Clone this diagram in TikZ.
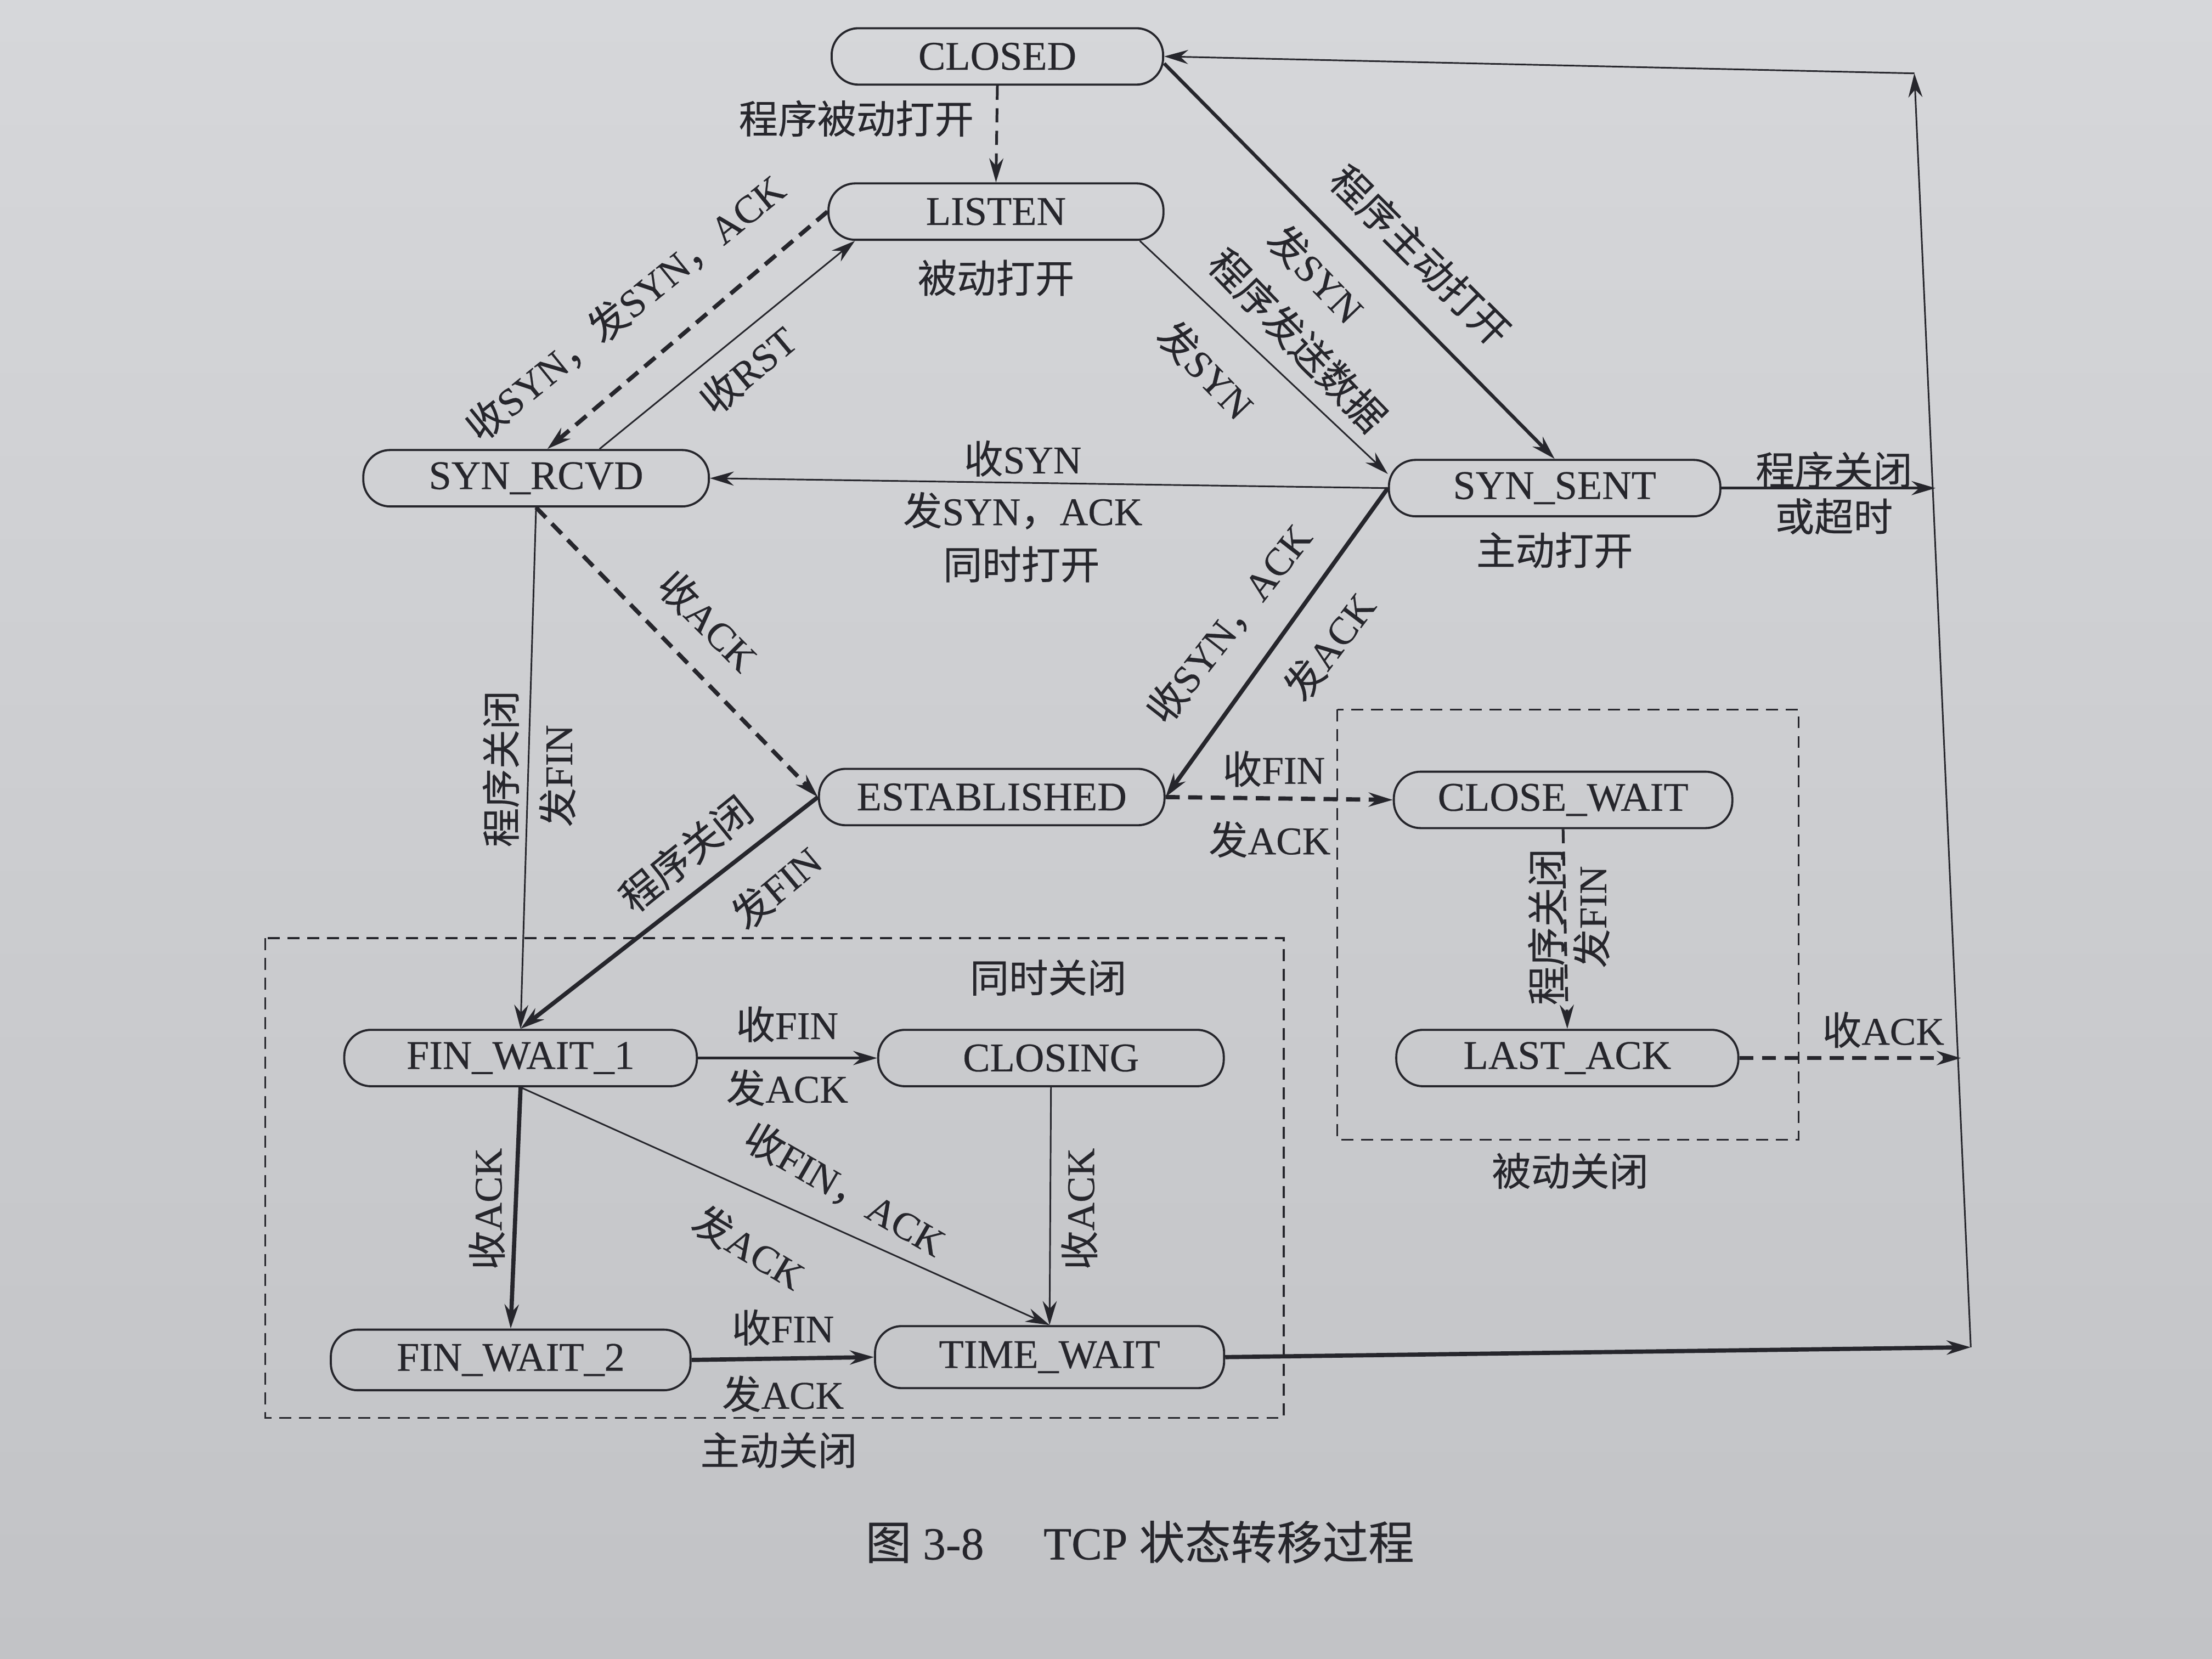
\documentclass[tikz,border=0pt]{standalone}
\usepackage{fontspec}
\setmainfont{Liberation Serif}[FakeBold=0.35]
\newfontfamily\cjk{Noto Sans CJK SC}[FakeBold=0.3]
\usetikzlibrary{arrows.meta,calc}
\newcommand\zh[1]{{\cjk #1}}
\newcommand\lblfont{\fontsize{15.8}{18}\selectfont}
\newcommand\stfont{\fontsize{16.4}{19}\selectfont}
\definecolor{ink}{RGB}{38,38,44}
\definecolor{papertop}{RGB}{214,215,218}
\definecolor{paperbot}{RGB}{194,195,198}
\begin{document}
\begin{tikzpicture}[x=0.02cm,y=-0.02cm,
  >={Stealth[length=0.34cm,width=0.2cm]},
  state/.style={draw=ink,line width=0.85pt,rounded corners=0.38cm,minimum width=4.8cm,minimum height=0.8cm,inner sep=0pt,text=ink,font=\stfont},
  lbl/.style={text=ink,font=\lblfont,inner sep=0.5pt},
  lnA/.style={draw=ink,line width=0.65pt,->},
  lnB/.style={draw=ink,line width=1.1pt,->},
  lnC/.style={draw=ink,line width=1.7pt,->},
  dsh/.style={dash pattern=on 0.2cm off 0.12cm},
  grp/.style={draw=ink,line width=0.7pt,dash pattern=on 0.17cm off 0.11cm}]
\shade[top color=papertop,bottom color=paperbot] (0,0) rectangle (1568,1176);
\useasboundingbox (0,0) rectangle (1568,1176);

% group boxes
\draw[grp] (188,665) rectangle (910,1005);
\draw[grp] (948,503) rectangle (1275,808);

% states
\node[state,minimum width=4.7cm] (CLOSED) at (707,40) {CLOSED};
\node[state,minimum width=4.75cm] (LISTEN) at (706,150) {LISTEN};
\node[state,minimum width=4.9cm] (SYNRCVD) at (380,339) {SYN\_RCVD};
\node[state,minimum width=4.7cm] (SYNSENT) at (1102,346) {SYN\_SENT};
\node[state,minimum width=4.9cm] (EST) at (703,565) {ESTABLISHED};
\node[state,minimum width=4.8cm] (CLOSEWAIT) at (1108,567) {CLOSE\_WAIT};
\node[state,minimum width=5.0cm] (FW1) at (369,750) {FIN\_WAIT\_1};
\node[state,minimum width=4.9cm] (CLOSING) at (745,750) {CLOSING};
\node[state,minimum width=4.85cm] (LASTACK) at (1111,750) {LAST\_ACK};
\node[state,minimum width=5.1cm,minimum height=0.86cm] (FW2) at (362,964) {FIN\_WAIT\_2};
\node[state,minimum width=4.95cm,minimum height=0.88cm] (TW) at (744,962) {TIME\_WAIT};

% bus on the right
\coordinate (busB) at (1397,955);
\coordinate (busT) at (1357,52);
\coordinate (busS) at (1372,346);
\coordinate (busL) at (1390,750);

% connectors
\draw[lnB,dsh] (CLOSED.south) -- (LISTEN.north);
\draw[lnC,dsh] (LISTEN.west) -- ([xshift=0.16cm]SYNRCVD.north);
\draw[lnA] ([xshift=0.9cm]SYNRCVD.north) -- ([xshift=-2cm]LISTEN.south);
\draw[lnB,line width=1.4pt] ([yshift=-0.1cm]CLOSED.east) -- (SYNSENT.north);
\draw[lnA] ([xshift=2.04cm]LISTEN.south) -- ([yshift=0.2cm]SYNSENT.west);
\draw[lnA] (SYNSENT.west) -- (SYNRCVD.east);
\draw[lnC,dsh] (SYNRCVD.south) -- (EST.west);
\draw[lnC] (SYNSENT.west) -- (EST.east);
\draw[lnC,dsh] (EST.east) -- (CLOSEWAIT.west);
\draw[lnA] (SYNRCVD.south) -- (FW1.north);
\draw[lnC] (EST.west) -- (FW1.north);
\draw[lnB,dsh] (CLOSEWAIT.south) -- (LASTACK.north);
\draw[lnB] (FW1.east) -- (CLOSING.west);
\draw[lnC] (FW1.south) -- (FW2.north);
\draw[lnA] (FW1.south) -- (TW.north);
\draw[lnA] (CLOSING.south) -- (TW.north);
\draw[lnC] (FW2.east) -- (TW.west);
\draw[lnC] (TW.east) -- (busB);
\draw[lnB] (SYNSENT.east) -- (busS);
\draw[lnC,dsh] (LASTACK.east) -- (busL);
\draw[lnA] (busB) -- (busT);
\draw[lnA] (busT) -- (CLOSED.east);

% labels
\node[lbl] (t1) at (607,84) {\zh{程序被动打开}};
\node[lbl,rotate=39] (t2) at (443,218) {\zh{收}SYN\zh{，发}SYN\zh{，}ACK};
\node[lbl,rotate=40] (t3) at (530,262) {\zh{收}RST};
\node[lbl] (t4) at (706,197) {\zh{被动打开}};
\node[lbl,rotate=-45] (t5) at (1007,181) {\zh{程序主动打开}};
\node[lbl,rotate=-46] (t6) at (933,194) {\zh{发}SYN};
\node[lbl,rotate=-46] (t7) at (920,241) {\zh{程序发送数据}};
\node[lbl,rotate=-46] (t8) at (855,262) {\zh{发}SYN};
\node[lbl] (t9) at (725,325) {\zh{收}SYN};
\node[lbl] (t10) at (725,362) {\zh{发}SYN\zh{，}ACK};
\node[lbl] (t11) at (724,400) {\zh{同时打开}};
\node[lbl] (t12) at (1102,390) {\zh{主动打开}};
\node[lbl] (t13) at (1300,333) {\zh{程序关闭}};
\node[lbl] (t14) at (1300,366) {\zh{或超时}};
\node[lbl,rotate=-45] (t15) at (502,440) {\zh{收}ACK};
\node[lbl,rotate=52] (t16) at (871,442) {\zh{收}SYN\zh{，}ACK};
\node[lbl,rotate=53] (t17) at (942,458) {\zh{发}ACK};
\node[lbl] (t18) at (903,545) {\zh{收}FIN};
\node[lbl] (t19) at (900,595) {\zh{发}ACK};
\node[lbl,rotate=90] (t20) at (355,545) {\zh{程序关闭}};
\node[lbl,rotate=90] (t21) at (395,550) {\zh{发}FIN};
\node[lbl,rotate=39] (t22) at (486,605) {\zh{程序关闭}};
\node[lbl,rotate=40] (t23) at (550,629) {\zh{发}FIN};
\node[lbl,rotate=90] (t24) at (1096,657) {\zh{程序关闭}};
\node[lbl,rotate=90] (t25) at (1128,650) {\zh{发}FIN};
\node[lbl] (t26) at (743,693) {\zh{同时关闭}};
\node[lbl] (t27) at (558,726) {\zh{收}FIN};
\node[lbl] (t28) at (558,771) {\zh{发}ACK};
\node[lbl,rotate=90] (t29) at (345,857) {\zh{收}ACK};
\node[lbl,rotate=-30] (t30) at (599,843) {\zh{收}FIN\zh{，}ACK};
\node[lbl,rotate=-31] (t31) at (531,884) {\zh{发}ACK};
\node[lbl,rotate=90] (t32) at (765,857) {\zh{收}ACK};
\node[lbl] (t33) at (555,941) {\zh{收}FIN};
\node[lbl] (t34) at (555,988) {\zh{发}ACK};
\node[lbl] (t35) at (552,1028) {\zh{主动关闭}};
\node[lbl] (t36) at (1113,830) {\zh{被动关闭}};
\node[lbl] (t37) at (1335,730) {\zh{收}ACK};
\node[lbl,font=\fontsize{18.5}{21}\selectfont] (cap) at (808,1093) {\zh{图}~3-8\hspace{1.3em}TCP~\zh{状态转移过程}};
\end{tikzpicture}
\end{document}
